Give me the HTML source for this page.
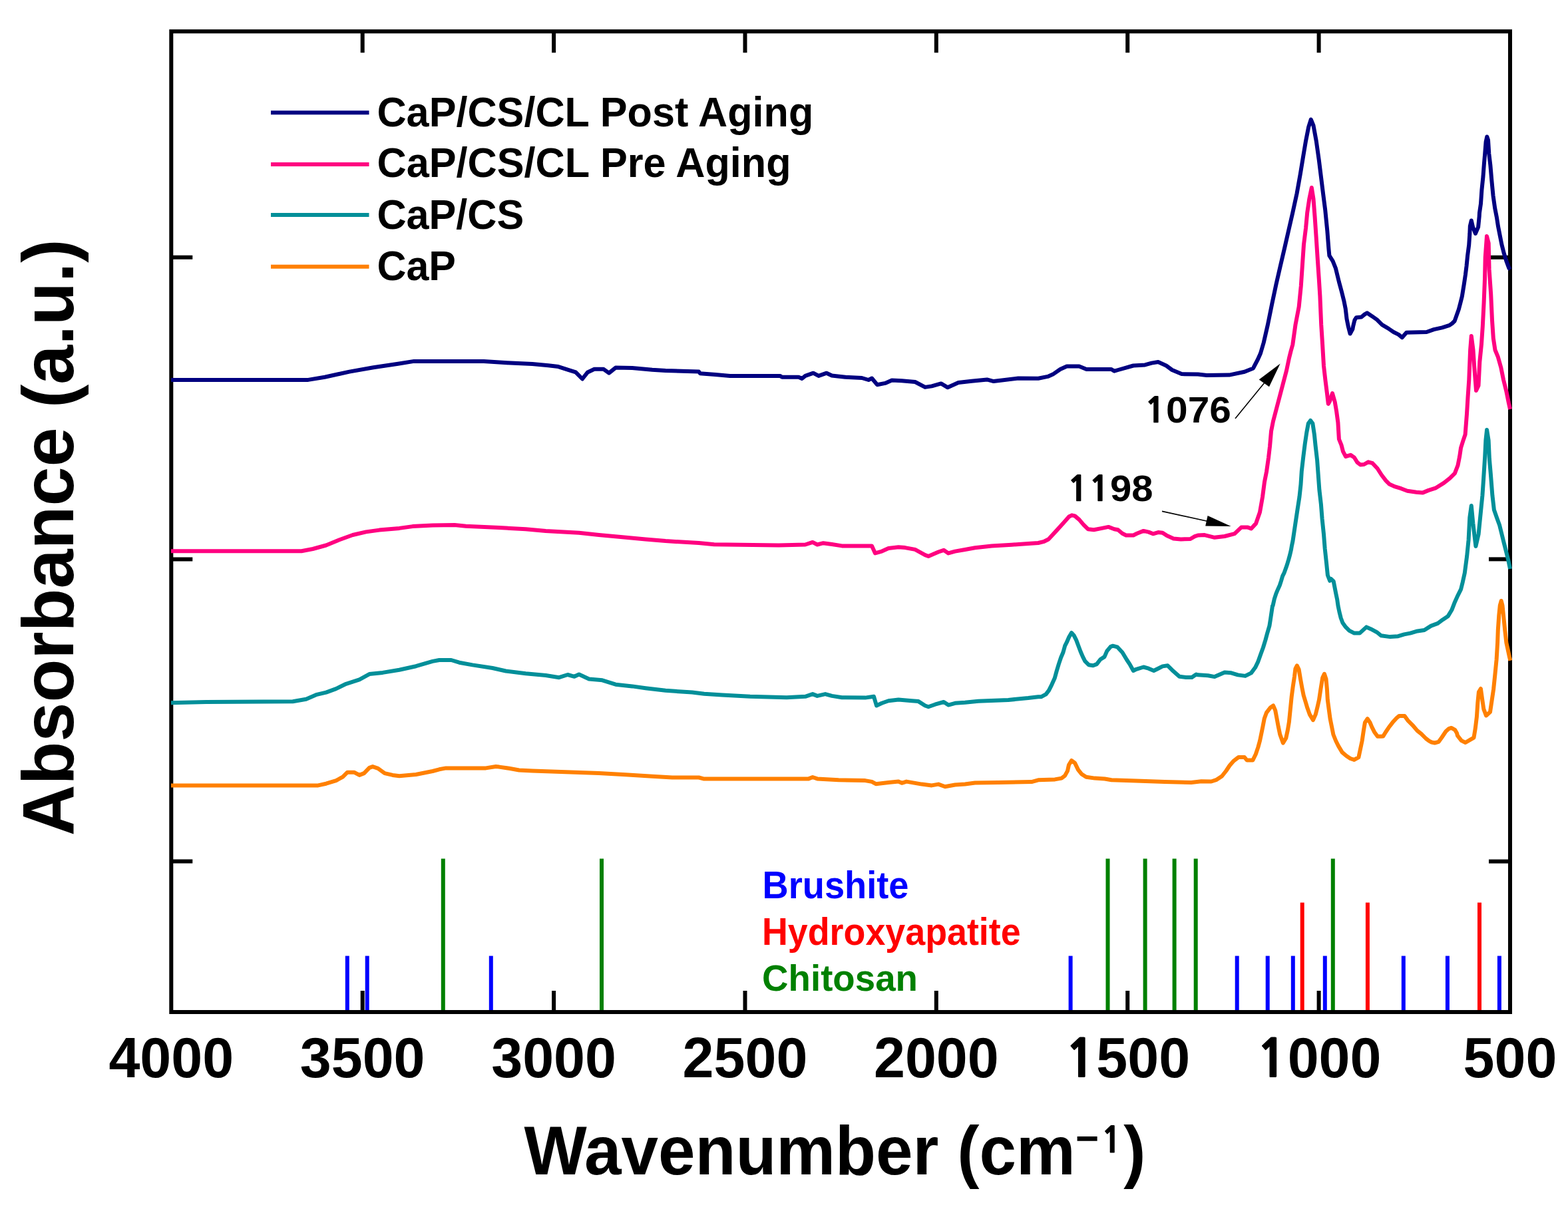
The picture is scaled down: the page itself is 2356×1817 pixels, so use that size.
<!DOCTYPE html>
<html><head><meta charset="utf-8"><title>FTIR spectra</title>
<style>html,body{margin:0;padding:0;background:#fff;overflow:hidden;}svg{display:block;}</style>
</head><body>
<svg width="2356" height="1817" viewBox="0 0 2356 1817" font-family="'Liberation Sans', Arial, Helvetica, sans-serif" font-weight="bold"><rect x="0" y="0" width="2356" height="1817" fill="#ffffff"/><line x1="521.8" y1="1524" x2="521.8" y2="1436.6" stroke="#0000ff" stroke-width="6"/><line x1="551.7" y1="1524" x2="551.7" y2="1436.6" stroke="#0000ff" stroke-width="6"/><line x1="737.8" y1="1524" x2="737.8" y2="1436.6" stroke="#0000ff" stroke-width="6"/><line x1="1608.6" y1="1524" x2="1608.6" y2="1436.6" stroke="#0000ff" stroke-width="6"/><line x1="1858.7" y1="1524" x2="1858.7" y2="1436.6" stroke="#0000ff" stroke-width="6"/><line x1="1904.7" y1="1524" x2="1904.7" y2="1436.6" stroke="#0000ff" stroke-width="6"/><line x1="1942.8" y1="1524" x2="1942.8" y2="1436.6" stroke="#0000ff" stroke-width="6"/><line x1="1990.8" y1="1524" x2="1990.8" y2="1436.6" stroke="#0000ff" stroke-width="6"/><line x1="2108.8" y1="1524" x2="2108.8" y2="1436.6" stroke="#0000ff" stroke-width="6"/><line x1="2174.9" y1="1524" x2="2174.9" y2="1436.6" stroke="#0000ff" stroke-width="6"/><line x1="2252.9" y1="1524" x2="2252.9" y2="1436.6" stroke="#0000ff" stroke-width="6"/><line x1="665.8" y1="1524" x2="665.8" y2="1290.5" stroke="#008000" stroke-width="6"/><line x1="904" y1="1524" x2="904" y2="1290.5" stroke="#008000" stroke-width="6"/><line x1="1664.5" y1="1524" x2="1664.5" y2="1290.5" stroke="#008000" stroke-width="6"/><line x1="1720.6" y1="1524" x2="1720.6" y2="1290.5" stroke="#008000" stroke-width="6"/><line x1="1764.6" y1="1524" x2="1764.6" y2="1290.5" stroke="#008000" stroke-width="6"/><line x1="1796.7" y1="1524" x2="1796.7" y2="1290.5" stroke="#008000" stroke-width="6"/><line x1="2002.8" y1="1524" x2="2002.8" y2="1290.5" stroke="#008000" stroke-width="6"/><line x1="1956.7" y1="1524" x2="1956.7" y2="1356.6" stroke="#ff0000" stroke-width="6"/><line x1="2054.9" y1="1524" x2="2054.9" y2="1356.6" stroke="#ff0000" stroke-width="6"/><line x1="2223" y1="1524" x2="2223" y2="1356.6" stroke="#ff0000" stroke-width="6"/><rect x="257.3" y="47.2" width="2011.7" height="1473.8" fill="none" stroke="#000" stroke-width="6"/><line x1="544.7" y1="1521" x2="544.7" y2="1489" stroke="#000" stroke-width="6"/><line x1="544.7" y1="47.2" x2="544.7" y2="79.2" stroke="#000" stroke-width="6"/><line x1="832.1" y1="1521" x2="832.1" y2="1489" stroke="#000" stroke-width="6"/><line x1="832.1" y1="47.2" x2="832.1" y2="79.2" stroke="#000" stroke-width="6"/><line x1="1119.5" y1="1521" x2="1119.5" y2="1489" stroke="#000" stroke-width="6"/><line x1="1119.5" y1="47.2" x2="1119.5" y2="79.2" stroke="#000" stroke-width="6"/><line x1="1406.8" y1="1521" x2="1406.8" y2="1489" stroke="#000" stroke-width="6"/><line x1="1406.8" y1="47.2" x2="1406.8" y2="79.2" stroke="#000" stroke-width="6"/><line x1="1694.2" y1="1521" x2="1694.2" y2="1489" stroke="#000" stroke-width="6"/><line x1="1694.2" y1="47.2" x2="1694.2" y2="79.2" stroke="#000" stroke-width="6"/><line x1="1981.6" y1="1521" x2="1981.6" y2="1489" stroke="#000" stroke-width="6"/><line x1="1981.6" y1="47.2" x2="1981.6" y2="79.2" stroke="#000" stroke-width="6"/><line x1="257.3" y1="386.8" x2="289.3" y2="386.8" stroke="#000" stroke-width="6"/><line x1="2269" y1="386.8" x2="2237" y2="386.8" stroke="#000" stroke-width="6"/><line x1="257.3" y1="840.4" x2="289.3" y2="840.4" stroke="#000" stroke-width="6"/><line x1="2269" y1="840.4" x2="2237" y2="840.4" stroke="#000" stroke-width="6"/><line x1="257.3" y1="1294.6" x2="289.3" y2="1294.6" stroke="#000" stroke-width="6"/><line x1="2269" y1="1294.6" x2="2237" y2="1294.6" stroke="#000" stroke-width="6"/><polyline points="257,1180.4 478,1180.4 490,1177.7 505,1173.1 515,1167.6 522,1160.7 532,1160.7 540,1164.9 547,1162.1 555,1153.9 560,1152.1 568,1154.8 578,1162.1 590,1164.9 600,1166.2 625,1164 650,1159 660,1156.3 670,1154.4 730,1154.4 745,1152 750,1152.6 765,1154.8 780,1157.5 800,1158.5 850,1160.3 900,1162.1 940,1164.3 980,1166.7 1010,1168.5 1050,1168.5 1057,1170.4 1215,1170.4 1221,1168 1228,1170.4 1260,1172.2 1300,1173.1 1310,1174.9 1316,1178.2 1335,1175.9 1350,1174.6 1355,1176.8 1362,1174.6 1385,1178.6 1400,1180.4 1410,1178.6 1420,1182.3 1435,1179.5 1450,1178.5 1465,1176.6 1500,1176 1550,1175.1 1560,1172.3 1585,1171.4 1595,1169.6 1600,1165.9 1604,1158.6 1606,1149.5 1610,1143 1615,1146.7 1620,1156.8 1625,1163.2 1632,1167.8 1645,1169.6 1660,1170.5 1670,1172.3 1700,1173.3 1750,1175.1 1790,1176 1805,1174.2 1820,1174.5 1828,1171.8 1836,1166.5 1842.3,1158.5 1847.6,1150.5 1853.9,1143.3 1861,1138 1869.9,1138 1873.5,1142.5 1882.4,1142.5 1886.8,1133.5 1890.4,1122.9 1893.1,1113 1895.3,1102.4 1897.5,1091.7 1899.7,1080.1 1902.9,1071.2 1909.1,1063.2 1913.1,1060.5 1916.2,1067.6 1918.4,1079.2 1920.7,1091.7 1923.3,1104.1 1927.8,1116.6 1932.2,1109.5 1934.9,1097 1936.9,1085 1938.8,1066 1940.7,1047 1942.6,1032.7 1945,1016.6 1946.4,1005.2 1948.8,1000.4 1951.6,1006.1 1954,1020.4 1956.4,1033.7 1958.7,1045.1 1961.6,1054.6 1964.4,1064.1 1967.8,1073.6 1973,1082.1 1976.8,1073.6 1979.6,1062.2 1982,1051.7 1984.4,1035.6 1987.2,1018.5 1989.9,1012.8 1992.5,1020.4 1993.9,1035.6 1994.8,1051.7 1996.7,1066 1998.6,1080.2 2000.5,1089.7 2003.4,1104 2007.2,1113.5 2011,1121.1 2016.7,1130.6 2023.3,1136.2 2029,1140 2034.7,1141.9 2041.4,1138.1 2044.2,1124.8 2046.6,1113.5 2049,1097.3 2050.9,1085.9 2054.7,1080.2 2058.5,1085.9 2061.3,1092.6 2065.1,1100.2 2069.9,1106.8 2075,1106.8 2078.3,1106.4 2081.9,1100.5 2086.7,1093.3 2092.6,1085.6 2098.6,1079 2102.1,1076.1 2110.5,1076.1 2115.2,1082.6 2122.4,1089.8 2129.5,1098.1 2135.5,1102.9 2142.6,1110 2147.4,1113.6 2151,1115.5 2155.7,1116.5 2161.7,1114.8 2166.4,1108.2 2172.4,1099.3 2177.1,1095.1 2180.7,1093.9 2186.1,1096.9 2189,1101.7 2190,1105.7 2195.9,1113.1 2201.9,1116 2209.3,1111.6 2214.5,1108.6 2216.7,1095.3 2218.9,1077.4 2220.4,1055.2 2221.9,1040 2224.9,1035 2227.1,1050.7 2229.3,1065.6 2233,1075.5 2239,1070 2241.2,1055.2 2244.1,1035.9 2246.4,1013.6 2248.6,991.3 2250.1,966.1 2250.8,946.8 2252.3,924.5 2253.8,909.7 2255.7,903 2257.5,910 2259,924.5 2261.2,946.8 2263.4,966.1 2265.7,976.5 2267.9,986.9 2269.4,992.8" fill="none" stroke="#ff8000" stroke-width="6" stroke-linejoin="round" stroke-linecap="butt"/><polyline points="257,1056.2 310,1054.9 440,1054.3 460,1050.7 475,1044.2 490,1040.6 505,1035.1 520,1027.8 540,1021.4 555,1013.1 575,1010.9 600,1006.7 625,1001.2 650,993.9 660,992 678,992 690,995.7 710,999.4 740,1004 760,1008.5 790,1012.2 820,1015 840,1018.2 853,1014 863,1016.8 870,1013.5 885,1020.4 905,1022.3 925,1028.7 950,1031.4 970,1034.2 1000,1037.8 1040,1040.6 1058,1042.7 1085,1044.4 1127,1046.8 1182,1048.2 1210,1046.8 1221,1043.1 1228,1045.9 1240,1043.1 1250,1045.9 1265,1048.2 1300,1048.6 1313,1046.8 1317,1060.5 1325,1056.8 1335,1053.2 1350,1051.4 1370,1053.2 1380,1054.1 1390,1060.5 1395,1062.3 1405,1058.7 1418,1055 1425,1059.6 1435,1056.8 1450,1055.7 1470,1053.7 1515,1051.9 1545,1049.1 1560,1047.3 1564.3,1047.3 1571.6,1043.4 1576,1037.6 1580.4,1028.8 1584.8,1019 1587.5,1009.1 1590.8,998.1 1594.1,988.2 1597.4,980.5 1600.1,970.7 1602.9,965.2 1606.2,957.5 1610,951 1613.8,955.3 1617.1,961.9 1620.4,970.7 1623.7,979.5 1627,987.1 1630.3,993.7 1635.8,999.2 1642.4,1000.3 1647.9,998.1 1653.4,991 1659.5,987.1 1663.3,978.4 1668.8,971.8 1672.1,970.7 1678.7,972.3 1686.4,980.5 1693,991.5 1697.4,998.1 1702.9,1008 1707.3,1005.8 1718.2,1002.5 1725.9,1004.7 1733.6,1008 1740.2,1004.7 1746.8,1001.4 1754.5,1000.3 1761.1,1006.9 1772.1,1016.8 1782,1017.9 1790.8,1017.9 1797.4,1013.5 1800,1014.3 1815,1015.2 1825,1017.1 1840,1010.5 1850,1011.3 1860,1014.4 1871,1015.9 1880,1011.4 1886,1003.3 1890,995.2 1894,984.1 1898,973 1901.4,961.9 1904.4,950.8 1907.4,940.7 1909,930.6 1910.5,920.5 1912,910.5 1912.6,910 1914.8,900.1 1917.4,892.1 1920.1,885.7 1922.8,879.8 1924.9,873.4 1927.1,865.9 1929.7,860.6 1932.4,853.1 1934.5,846.7 1936.1,841.4 1938.3,833.4 1939.9,826.4 1941,820 1942.5,813 1946.5,786 1949.5,766 1952.5,746.5 1954.5,728.1 1955.8,708.1 1958.3,686.5 1960.8,666.6 1963.3,649.9 1965.8,636.6 1969.1,632 1972.4,636.6 1974.9,653.3 1976.6,669.9 1979.1,691.5 1980.7,713.1 1982.4,736.4 1984.9,758 1986.6,779.7 1989,802.9 1990.7,824.5 1993.2,847.8 1994.9,864.5 1998.2,872.8 2000,870 2003.7,873.7 2005.5,882.9 2007.3,892.1 2009.2,901.2 2010.5,910.4 2012.4,919.5 2014.7,928.7 2017.4,936 2022,942.4 2027.5,947.9 2034.8,951.6 2043,951.6 2053.1,942.4 2059.5,945.2 2069.6,950.7 2075.1,955.2 2088.8,957.1 2100.7,956.2 2109.9,953.4 2119,951.6 2128.2,948.8 2140.1,947 2150.2,940.6 2160.3,936.9 2167.6,931.4 2175.8,925.9 2181.3,916.8 2185.9,904.9 2190.5,894.8 2195.1,885.6 2197.8,874.7 2200.8,861.1 2204.1,836.2 2206.6,811.2 2208.3,778 2210.8,760 2213.3,786.3 2217.4,821 2221.6,802.9 2224.9,769.7 2227.4,744.7 2229.1,719.8 2231.2,686.5 2232.4,661.6 2234.1,646 2236.6,661.6 2237.9,689.8 2239.9,713.1 2242.4,744.7 2244.9,766.3 2249,778 2253.2,789.6 2256.5,802.9 2259.8,816.2 2263.2,829.5 2266.5,842.8 2269,855" fill="none" stroke="#028f99" stroke-width="6" stroke-linejoin="round" stroke-linecap="butt"/><polyline points="257,828.3 453,828.3 470,825 490,819.5 510,811.3 530,804 550,799.4 570,796.6 600,793.9 620,791.1 650,789.5 683,788.9 700,790.8 750,793 790,795.2 820,798.1 870,800.7 900,804 930,806.7 970,810.4 1000,813.1 1050,816 1073,818.2 1170,819.5 1210,818.5 1221,814.9 1228,818.5 1237,816.2 1250,818 1265,820.4 1310,820.4 1315,831.4 1325,828.6 1335,824 1350,822.2 1360,823.1 1375,825.9 1390,834.1 1395,836 1410,829.5 1418,826.8 1425,831.4 1435,828.6 1450,826 1465,823.3 1490,820.6 1520,818.8 1545,816.9 1560,816 1568.8,813.8 1575.4,810.5 1587.5,797.4 1598.5,785.3 1606.2,776.5 1610.5,774.3 1615,775.4 1621.5,780.9 1628.1,788.6 1634.7,795.2 1643.5,796.3 1654.5,794.1 1665.5,791.9 1674.3,795.2 1679.8,796.3 1686.4,801.8 1691.9,804.5 1702.9,804.5 1708.4,801.8 1718.2,797.9 1725.9,799.6 1732.5,802.3 1740.2,800.1 1746.8,800.7 1753.4,805.1 1763.3,809.5 1774.3,810.5 1788.6,810 1795.2,806.2 1800,804.5 1810,804.1 1825,807.8 1840,806 1855,802.1 1865,792.6 1875,792.6 1880,794.5 1887,786.9 1893,769.8 1897,747 1900,724.2 1903,709 1906,688.1 1908,671 1910,648.2 1913,633 1918,614 1923,595 1928,576 1933,557 1937,538 1939.5,528 1942.3,518 1946.5,488 1951.7,461 1954.8,429.8 1956.9,398.6 1959,367.5 1962.1,342.5 1964.2,319.7 1967.3,298.9 1970.8,282 1973.5,298.9 1975.6,325.9 1977.7,357.1 1979.7,388.2 1981.8,419.4 1983.4,445 1985.2,488 1987,516 1989,550 1991.5,572 1993.8,590 1995.8,607 1998,603 2002,591 2005.7,604 2008.1,618 2010.4,635 2011.9,660 2015.6,669.2 2017.9,678.3 2022,686.1 2029.3,683.8 2034.8,687.5 2039.4,694.8 2044,698.5 2049.5,698 2055.9,694.3 2062.3,696.2 2069.6,704 2076,714 2082.4,722.3 2087.9,727.8 2096.2,731.4 2105.3,734.2 2114.5,737.8 2128.2,739.7 2137.4,740.6 2146.5,736.9 2157.5,733.3 2169.4,725.9 2178.6,718.6 2185.9,711.3 2190.5,699.4 2193.2,685.6 2195.1,672.8 2198.3,662.7 2201.6,653 2204,622 2205.5,597.3 2207.3,570.6 2209.1,526 2210.8,505 2213.5,526 2215.3,552.8 2218,587 2221.5,579.5 2223.3,543.9 2226,517.1 2227.8,490.4 2229.6,454.8 2231,419.1 2231.7,387 2234,355 2236.7,365.6 2237.6,404.9 2240.2,442.3 2242,481.5 2243.8,508.2 2246.5,526 2250.9,536.7 2255.4,552.8 2259,570.6 2263.4,588.4 2267,606.2 2269,615" fill="none" stroke="#ff0080" stroke-width="6" stroke-linejoin="round" stroke-linecap="butt"/><polyline points="257,570.9 463,570.9 488,566.8 525,558.6 561,552.2 598,546.7 622,542.9 635,543 727,542.9 762,545.3 800,547.1 824,549.3 839,551.1 853,555.7 865,559.4 875,569.5 883,559.4 893,554.8 907,554.8 915,560.7 925,552.6 950,553 980,555.7 1000,557 1050,558.5 1052,561.2 1075,563 1097,564.9 1172,564.9 1175,566.7 1200,566.7 1205,569 1210,564.9 1222,560.7 1230,564.9 1242,560.7 1250,564.5 1270,566.7 1295,568 1305,571 1310,568.5 1318,578.2 1330,575.9 1340,571.6 1355,572.2 1375,574 1390,581.9 1400,580.4 1414,576.4 1424,582.3 1440,575 1460,572.7 1483,570.4 1493,573.1 1530,568.5 1560,568.7 1574.3,565.9 1582,562.6 1593,555 1602.9,550.5 1621.5,550.5 1632.5,555 1669.9,555 1674.3,557.7 1680,556 1691.9,552.7 1702.9,549.5 1720.4,548.4 1730.3,545.6 1740.2,544 1752.3,549.5 1761.1,556 1775.4,562.1 1800,562.6 1813,564.1 1847,563.6 1870,558.8 1883,553.4 1890,540 1894,531 1898.7,515 1904.9,488 1911.2,456.8 1917.4,427.7 1923.6,400.7 1929.9,373.7 1936.1,346.7 1942.3,319.7 1948.6,290.6 1953.8,261.5 1957.9,236.5 1962.1,211.6 1966.2,190.8 1969.8,179.5 1973.5,188.7 1977.7,211.6 1981.8,240.7 1984.9,265.6 1988,290.6 1991.2,315.5 1994.3,346.7 1996.4,373.7 1997.4,384.1 2002.6,392.4 2006.8,402.8 2011.9,423.6 2015.8,438 2019.3,451.9 2021.7,463.8 2023.5,479.2 2025.9,491.1 2028.6,501.5 2032.4,494.6 2033.1,490.5 2035.4,481.1 2037.8,477.2 2045.6,476.5 2050.2,472.6 2054.1,470.2 2061.1,474.9 2068.9,480.4 2076.7,488.1 2086,493.6 2093.8,499 2101.6,502.9 2106.7,507.2 2113.3,499.8 2143.6,499 2154.5,495.1 2167,492.4 2177.9,488.9 2182,486 2185.6,482.5 2188.6,474 2191.8,465 2194.3,455.5 2196.8,445.5 2199.8,427 2201.9,412.9 2203.5,400.1 2205.1,384.1 2207.2,368.1 2208.3,352 2208.8,340 2210.8,331.5 2213.1,341.4 2216.9,351 2221.1,341.4 2222.7,325.3 2223,319.7 2225,306.1 2226.4,285.6 2228.5,265.1 2229.8,247.4 2231.2,231 2232.6,213.2 2234.3,205.5 2236,210.5 2237.3,231 2239.4,248.7 2241.4,271.9 2243.5,293.8 2246.2,312.9 2248.9,326.6 2251,340.2 2253.7,353.9 2256.4,367.5 2259.9,381.2 2263.3,392.1 2267.4,403.1 2269,405" fill="none" stroke="#000080" stroke-width="6" stroke-linejoin="round" stroke-linecap="butt"/><line x1="407" y1="169.2" x2="554.5" y2="169.2" stroke="#000080" stroke-width="6"/><text transform="matrix(0.61168 0 0 0.63043 566.45 189.80)" font-size="100" fill="#000">CaP/CS/CL Post Aging</text><line x1="407" y1="247.0" x2="554.5" y2="247.0" stroke="#ff0080" stroke-width="6"/><text transform="matrix(0.61203 0 0 0.63043 566.45 265.90)" font-size="100" fill="#000">CaP/CS/CL Pre Aging</text><line x1="407" y1="323.1" x2="554.5" y2="323.1" stroke="#028f99" stroke-width="6"/><text transform="matrix(0.61105 0 0 0.63043 566.46 343.50)" font-size="100" fill="#000">CaP/CS</text><line x1="407" y1="400.8" x2="554.5" y2="400.8" stroke="#ff8000" stroke-width="6"/><text transform="matrix(0.60856 0 0 0.63043 566.47 421.30)" font-size="100" fill="#000">CaP</text><text transform="matrix(0.54253 0 0 0.57681 1145.50 1349.70)" font-size="100" fill="#0000ff">Brushite</text><text transform="matrix(0.53820 0 0 0.57101 1144.93 1419.80)" font-size="100" fill="#ff0000">Hydroxyapatite</text><text transform="matrix(0.54665 0 0 0.55714 1145.11 1489.40)" font-size="100" fill="#008000">Chitosan</text><text transform="matrix(0.58612 0 0 0.56057 1719.44 635.24)" font-size="100" fill="#000"><tspan font-family="NanumGothic, 'Liberation Sans', sans-serif" font-weight="800" font-size="91.8">1</tspan>076</text><text transform="matrix(0.58000 0 0 0.55629 1603.50 752.94)" font-size="100" fill="#000"><tspan font-family="NanumGothic, 'Liberation Sans', sans-serif" font-weight="800" font-size="91.8">1</tspan><tspan font-family="NanumGothic, 'Liberation Sans', sans-serif" font-weight="800" font-size="91.8">1</tspan>98</text><line x1="1856" y1="629" x2="1905" y2="569" stroke="#000" stroke-width="1.6"/><polygon points="1923.6,546.4 1891.7,570.6 1907,581.3" fill="#000"/><line x1="1746" y1="768.4" x2="1815" y2="783.5" stroke="#000" stroke-width="1.6"/><polygon points="1849.6,791 1814.6,775 1811.2,790.6" fill="#000"/><text transform="matrix(0.844 0 0 0.844 257.30 1619)" font-size="100" text-anchor="middle" fill="#000">4000</text><text transform="matrix(0.844 0 0 0.844 544.69 1619)" font-size="100" text-anchor="middle" fill="#000">3500</text><text transform="matrix(0.844 0 0 0.844 832.07 1619)" font-size="100" text-anchor="middle" fill="#000">3000</text><text transform="matrix(0.844 0 0 0.844 1119.46 1619)" font-size="100" text-anchor="middle" fill="#000">2500</text><text transform="matrix(0.844 0 0 0.844 1406.84 1619)" font-size="100" text-anchor="middle" fill="#000">2000</text><text transform="matrix(0.844 0 0 0.844 1694.23 1619)" font-size="100" text-anchor="middle" fill="#000"><tspan font-family="NanumGothic, 'Liberation Sans', sans-serif" font-weight="800" font-size="91.8">1</tspan>500</text><text transform="matrix(0.844 0 0 0.844 1981.61 1619)" font-size="100" text-anchor="middle" fill="#000"><tspan font-family="NanumGothic, 'Liberation Sans', sans-serif" font-weight="800" font-size="91.8">1</tspan>000</text><text transform="matrix(0.844 0 0 0.844 2269.00 1619)" font-size="100" text-anchor="middle" fill="#000">500</text><text transform="matrix(0.99830 0 0 1.03768 787.40 1764.80)" font-size="100" fill="#000">Wavenumber (cm<tspan font-size="60" dx="0.3" dy="-32.1">&#8722;<tspan font-family="NanumGothic, 'Liberation Sans', sans-serif" font-weight="800" font-size="51.8" dx="3.6">1</tspan></tspan><tspan dx="2.3" dy="32.1">)</tspan></text><text transform="translate(110.2 1256.19) rotate(-90) scale(1.06189 1.10000)" font-size="100" fill="#000">Absorbance (a.u.)</text></svg>
</body></html>
